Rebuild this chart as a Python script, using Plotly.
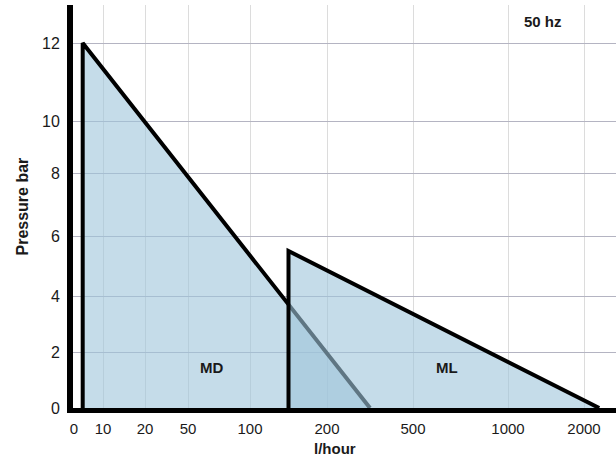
import numpy as np
import plotly.graph_objects as go

# ---- data (l/hour, bar) ----
X_TICK_VALUES = [0, 10, 20, 50, 100, 200, 500, 1000, 2000]
X_TICK_LABELS = ["0", "10", "20", "50", "100", "200", "500", "1000", "2000"]
Y_TICK_VALUES = [0, 2, 4, 6, 8, 10, 12]
Y_TICK_LABELS = ["0", "2", "4", "6", "8", "10", "12"]

MD_FLOW = [3, 3, 350]
MD_PRESSURE = [0, 12, 0]
ML_FLOW = [150, 150, 2200]
ML_PRESSURE = [0, 5.5, 0]

# ---- layout of the distorted (non-uniform) scales ----
X_TICK_POS = [1, 30, 72, 115, 177, 254, 340, 435, 511]
Y_TICK_POS = [0, 56, 112, 172, 235, 287, 365]


def scale(values, ticks, pos):
    """Piecewise-linear scale, extrapolated linearly past the ends."""
    t = np.asarray(ticks, float)
    p = np.asarray(pos, float)
    out = []
    for v in values:
        if v > t[-1]:
            out.append(p[-1] + (v - t[-1]) * (p[-1] - p[-2]) / (t[-1] - t[-2]))
        else:
            out.append(float(np.interp(v, t, p)))
    return out


def sx(v):
    return scale(v, X_TICK_VALUES, X_TICK_POS)


def sy(v):
    return scale(v, Y_TICK_VALUES, Y_TICK_POS)


FONT = "Liberation Sans, Arial, Helvetica, sans-serif"
FILL = "rgba(158,197,218,0.6)"

fig = go.Figure()
fig.add_trace(go.Scatter(
    x=sx(MD_FLOW), y=sy(MD_PRESSURE), mode="lines", fill="toself",
    fillcolor=FILL, line=dict(color="black", width=4), hoverinfo="skip",
    showlegend=False,
))
fig.add_trace(go.Scatter(
    x=sx(ML_FLOW), y=sy(ML_PRESSURE), mode="lines", fill="toself",
    fillcolor=FILL, line=dict(color="black", width=4), hoverinfo="skip",
    showlegend=False,
))

fig.update_layout(
    width=616, height=462,
    margin=dict(l=73, r=0, t=5, b=54),
    paper_bgcolor="white", plot_bgcolor="white",
    font=dict(family=FONT, size=14, color="#1a1a1a"),
    xaxis=dict(
        range=[0, 543], tickmode="array", tickvals=X_TICK_POS,
        ticktext=X_TICK_LABELS, showgrid=True, gridcolor="#dcdcdc",
        gridwidth=1, zeroline=False, showline=True, linecolor="black",
        linewidth=5, ticks="", ticklabelstandoff=3, automargin=False,
        tickfont=dict(size=15),
    ),
    yaxis=dict(
        range=[0, 403], tickmode="array", tickvals=Y_TICK_POS,
        ticktext=Y_TICK_LABELS, showgrid=True, gridcolor="#b4b4c2",
        gridwidth=1, zeroline=False, showline=True, linecolor="black",
        linewidth=6, ticks="", ticklabelstandoff=4, automargin=False,
        tickfont=dict(size=16),
    ),
    annotations=[
        dict(text="<b>Pressure bar</b>", xref="paper", yref="paper",
             x=0, y=0.5, xshift=-51, xanchor="center", yanchor="middle",
             textangle=-90, showarrow=False, font=dict(size=16)),
        dict(text="<b>l/hour</b>", xref="paper", yref="paper",
             x=0.4825, y=0, yshift=-40, xanchor="center", yanchor="middle",
             showarrow=False, font=dict(size=15)),
        dict(text="<b>50 hz</b>", xref="paper", yref="paper",
             x=0.8656, y=0.958, xanchor="center", yanchor="middle",
             showarrow=False, font=dict(size=15)),
        dict(text="<b>MD</b>", x=sx([69])[0], y=sy([1.43])[0],
             xanchor="center", yanchor="middle",
             showarrow=False, font=dict(size=15)),
        dict(text="<b>ML</b>", x=sx([680])[0], y=sy([1.43])[0],
             xanchor="center", yanchor="middle",
             showarrow=False, font=dict(size=15)),
    ],
)

fig.write_html(
    "out.html",
    config={"displayModeBar": False},
    post_script="document.body.style.margin='0';document.body.style.padding='0';",
)
